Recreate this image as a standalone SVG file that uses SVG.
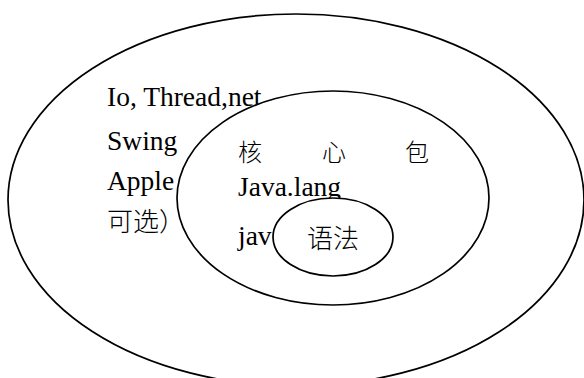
<svg xmlns="http://www.w3.org/2000/svg" width="584" height="378" viewBox="0 0 584 378">
  <style>
    .ring { fill: #fff; stroke: #000; stroke-width: 1.7; }
    .lat { font-family: "Liberation Serif", "Times New Roman", serif; font-size: 27.5px; fill: #000; }
    .cjk { font-family: "Noto Sans CJK SC", "Noto Sans CJK JP", sans-serif; font-size: 24px; font-weight: 300; fill: #000; }
  </style>
  <rect width="584" height="378" fill="#fff"/>

  <!-- outer layer: optional packages -->
  <g id="outer">
    <ellipse class="ring" cx="296" cy="200" rx="288" ry="186"/>
    <text class="lat" x="107" y="106">Io, Thread,net</text>
    <text class="lat" x="107" y="150">Swing</text>
    <text class="lat" x="107" y="190">Apple</text>
    <text class="cjk" x="107" y="231" style="font-size:26px">可选）</text>
  </g>

  <!-- middle layer: core packages -->
  <g id="core">
    <ellipse class="ring" cx="333" cy="198" rx="156" ry="107"/>
    <text class="cjk" x="238" y="161">核</text>
    <text class="cjk" x="322" y="161">心</text>
    <text class="cjk" x="405" y="161">包</text>
    <text class="lat" x="238" y="196">Java.lang</text>
    <text class="lat" x="238" y="245">jav</text>
  </g>

  <!-- inner layer: syntax -->
  <g id="syntax">
    <ellipse class="ring" cx="333" cy="237" rx="60" ry="39"/>
    <text class="cjk" x="307" y="248" style="font-size:26px">语法</text>
  </g>

  <g id="connectors"/>
</svg>
